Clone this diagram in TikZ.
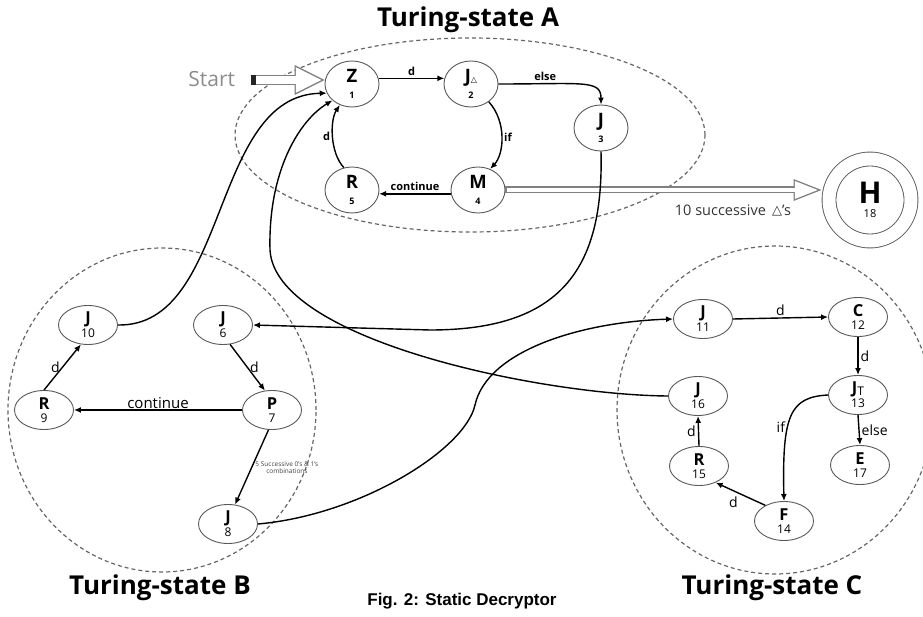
\documentclass[tikz,border=0pt]{standalone}
\usepackage{fontspec}
\setmainfont{Open Sans}
\newfontfamily\symb{DejaVu Sans}
\newfontfamily\capfont{Liberation Sans}
\usetikzlibrary{shapes.geometric,arrows.meta}
\newcommand{\tstateA}[2]{{\fontsize{18.5}{18}\selectfont\bfseries #1}\\[4pt]{\fontsize{9}{10}\selectfont\bfseries #2}}
\newcommand{\tstateC}[2]{{\fontsize{16.5}{16}\selectfont\bfseries #1}\\[1pt]{\fontsize{12}{13}\selectfont #2}}
\newcommand{\tri}{{\symb\fontsize{8}{8}\selectfont △}}

\begin{document}
\begin{tikzpicture}[x=1pt,y=-1pt]

\pgfdeclarelayer{background}
\pgfsetlayers{background,main}

\tikzstyle{nodeA} = [draw=black!65, ellipse, line width=0.9pt, minimum width=54pt, minimum height=46pt, inner sep=0pt, align=center]
\tikzstyle{nodeC} = [draw=black!65, ellipse, line width=0.9pt, minimum width=59pt, minimum height=39pt, inner sep=0pt, align=center]
\tikzstyle{edge} = [-{Latex[length=7pt,width=6pt]}, line width=1.4pt]
\tikzstyle{lblA} = [font=\fontsize{11}{11}\selectfont\bfseries, inner sep=2pt]
\tikzstyle{lblC} = [font=\fontsize{14}{14}\selectfont, inner sep=2pt]
\tikzstyle{zone} = [draw=black!60, dash pattern=on 4pt off 3pt, line width=1.2pt]
\tikzstyle{zonetitle} = [font=\fontsize{26}{30}\selectfont\bfseries]

\tikzset{
  hollow arrow/.style n args={7}{
    line width=#1, draw=black!50,
    -{Triangle[length=#2, width=#3, line width=0pt]}, % outline
    postaction={draw=white, line width=#4,
                -{Triangle[length=#5, width=#6, line width=0pt]},
                shorten >=#7, shorten <=1.4pt}, % inside
  }
}

\useasboundingbox (0,0) rectangle (923,617);
\coordinate (anchor) at (0,0);

%Turing-state A: top

\path (anchor)+(352,84) node (z1) [nodeA] {\tstateA{Z}{1}};
\path (z1)+(119,0) node (j2) [nodeA] {\tstateA{J\tri}{2}};
\path (j2)+(130,44) node (j3) [nodeA] {\tstateA{J}{3}};
\path (j2)+(7,106) node (m4) [nodeA] {\tstateA{M}{4}};
\path (z1)+(0,106) node (r5) [nodeA] {\tstateA{R}{5}};

\path (anchor)+(468,20) node (title_a) [zonetitle] {Turing-state A};

%Start arrow

\path (z1.west)+(-74,-4) coordinate (start_tail);
\path (start_tail)+(-12,-1) node (start) [anchor=east, text=black!45, font=\fontsize{21}{24}\selectfont] {Start};

%Halting state

\path (anchor)+(870,200) node (h18) [circle, draw=black!65, line width=0.9pt, double, double distance=13pt, minimum size=82pt, inner sep=0pt, outer sep=7.5pt, align=center] {{\fontsize{30}{30}\selectfont\bfseries H}\\[2pt]{\fontsize{11}{12}\selectfont 18}};

%Turing-state B: bottom left

\path (anchor)+(88,325) node (j10) [nodeC] {\tstateC{J}{10}};
\path (j10)+(135,0) node (j6) [nodeC] {\tstateC{J}{6}};
\path (j6)+(49,85) node (p7) [nodeC] {\tstateC{P}{7}};
\path (p7)+(-228,0) node (r9) [nodeC] {\tstateC{R}{9}};
\path (p7)+(-44,114) node (j8) [nodeC] {\tstateC{J}{8}};

\path (anchor)+(160,588) node (title_b) [zonetitle] {Turing-state B};

%Turing-state C: bottom right

\path (anchor)+(703,319) node (j11) [nodeC] {\tstateC{J}{11}};
\path (j11)+(155,-2) node (c12) [nodeC] {\tstateC{C}{12}};
\path (c12)+(0,78) node (jt13) [nodeC] {\tstateC{J\raisebox{-1.5pt}{\fontsize{12}{12}\selectfont\mdseries T}}{13}};
\path (jt13)+(-160,1) node (j16) [nodeC] {\tstateC{J}{16}};
\path (j16)+(1,70) node (r15) [nodeC] {\tstateC{R}{15}};
\path (jt13)+(2,70) node (e17) [nodeC] {\tstateC{E}{17}};
\path (r15)+(85,55) node (f14) [nodeC] {\tstateC{F}{14}};

\path (anchor)+(772,588) node (title_c) [zonetitle] {Turing-state C};

\path (anchor)+(462,601) node (caption) [font=\capfont\bfseries\fontsize{17}{20}\selectfont] {Fig. 2: Static Decryptor};

%Arrows inside A

\draw [edge] (z1.12) -- node[lblA, above] {d} (j2.168);
\draw [edge] (j2.east) .. controls +(85,0) and +(0,-25) .. node[lblA, above, pos=0.22] {else} (j3.north);
\draw [edge] (j2.-45) .. controls +(18,20) and +(14,-15) .. node[lblA, right] {if} (m4.60);
\draw [edge] (m4.188) -- node[lblA, above] {continue} (r5.-8);
\draw [edge] (r5.110) .. controls +(-14,-15) and +(-10,15) .. node[lblA, left] {d} (z1.240);

\draw [hollow arrow={10pt}{30pt}{30pt}{7.2pt}{25.5pt}{25.5pt}{3.1pt}] (start_tail) -- (start_tail -| z1.west);
\draw [line width=10pt, black!85] (start_tail) -- +(5,0);

\draw [hollow arrow={7pt}{28pt}{22pt}{4.2pt}{22.8pt}{17.9pt}{3.8pt}] (m4.east) -- node[pos=0.72, below=8pt, font=\fontsize{14.5}{16}\selectfont, text=black!80] {10 successive \,\raisebox{0.5pt}{{\symb\fontsize{13}{13}\selectfont △}}'s} (m4.east -| h18.west);

%Arrows inside B

\draw [edge] (r9.north) -- node[lblC, left] {d} (j10.250);
\draw [edge] (j6.290) -- node[lblC, right] {d} (p7.110);
\draw [edge] (p7.west) -- node[above, inner sep=1pt, font=\fontsize{15}{17}\selectfont] {continue} (r9.east);
\draw [edge] (p7.260) -- node[right, inner sep=3pt, align=center, text=black!75, font=\fontsize{6.5}{7}\selectfont] {5 Successive 0's \& 1's\\combinations} (j8.70);

%Arrows inside C

\draw [edge] (j11.east) -- node[lblC, above] {d} (c12.west);
\draw [edge] (c12.south) -- node[lblC, right] {d} (jt13.north);
\draw [edge] (jt13.south) -- node[lblC, right] {else} (e17.north);
\draw [edge] (jt13.west) .. controls (790,397) and (782,415) .. node[lblC, left, pos=0.6] {if} (f14.north);
\draw [edge] (f14.140) -- node[lblC, below left] {d} (r15.-45);
\draw [edge] (r15.north) -- node[lblC, left] {d} (j16.south);

%Arrows between the zones

\draw [edge] (j10.east) .. controls (230,327) and (210,95) .. (z1.200);
\draw [edge] (j16.west) .. controls (540,395) and (275,340) .. (270,250) .. controls (268,170) and (300,120) .. (z1.220);
\draw [edge] (j3.south) .. controls (604,270) and (560,330) .. (430,330) -- (j6.east);
\draw [edge] (j8.east) .. controls (360,515) and (465,450) .. (475,405) .. controls (487,351) and (580,322) .. (j11.west);

\begin{pgfonlayer}{background}

\draw [zone] (470,135) ellipse [x radius=235pt, y radius=97pt];
\draw [zone] (162,410) ellipse [x radius=154pt, y radius=162pt];
\draw [zone] (775,410) ellipse [x radius=158pt, y radius=164pt];

\end{pgfonlayer}

\end{tikzpicture}
\end{document}
